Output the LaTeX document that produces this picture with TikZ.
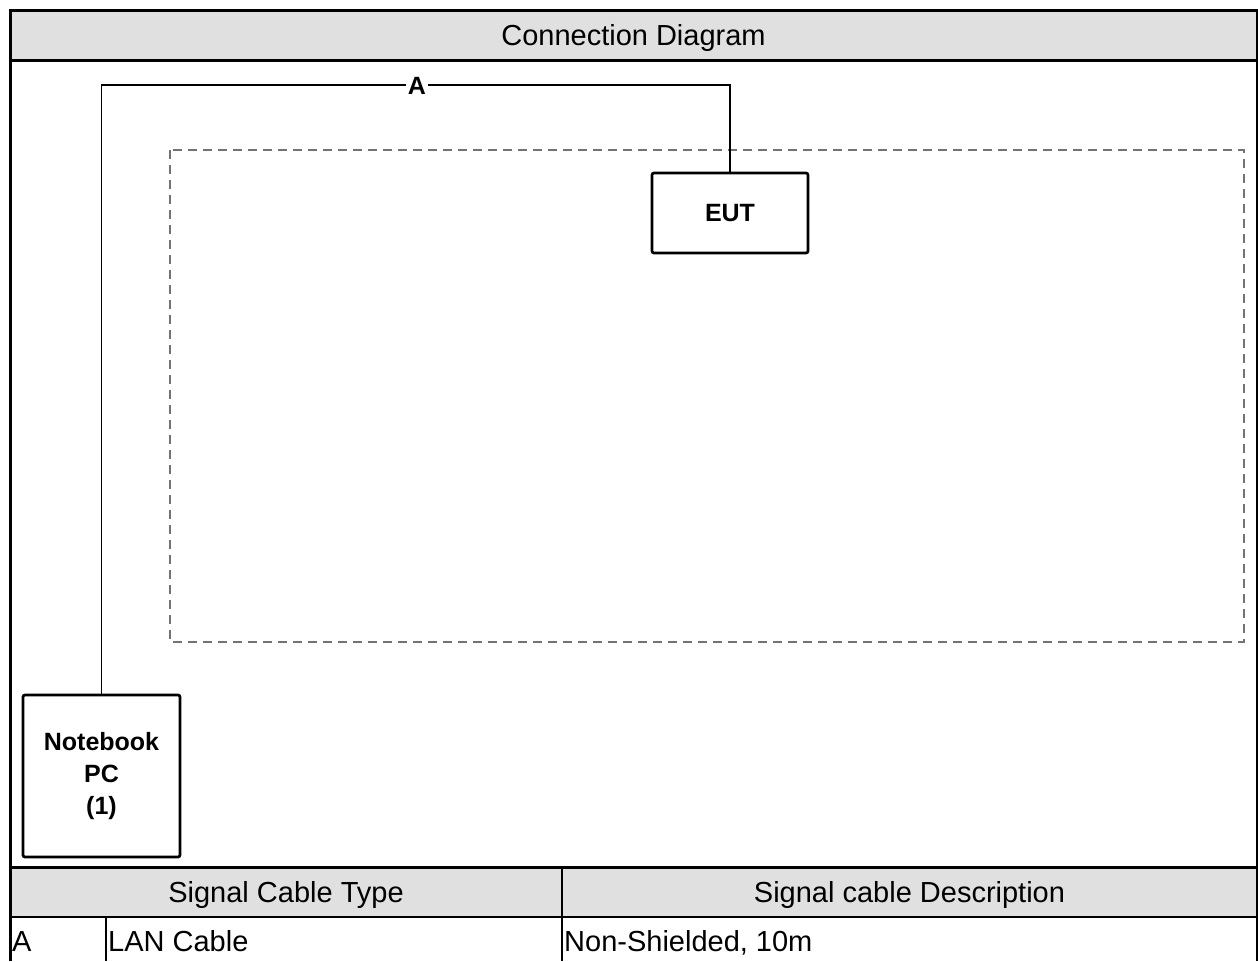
\documentclass[tikz,border=0pt]{standalone}
\usepackage{fontspec}
\setmainfont{Liberation Sans}
\begin{document}
\begin{tikzpicture}[x=1pt,y=-1pt,
  frame/.style={line width=3pt,black},
  rule/.style={line width=2pt,black},
  band/.style={fill=black!12},
  unit/.style={draw,line width=2.7pt,rounded corners=2pt,align=center,
    font=\fontsize{25}{32}\selectfont\bfseries,inner sep=0pt},
  cable/.style={line width=1.5pt,black},
  zone/.style={draw=black!55,line width=1.3pt,dash pattern=on 9pt off 6pt},
  head/.style={font=\fontsize{29}{35}\selectfont,inner sep=0pt},
  cell/.style={font=\fontsize{29}{35}\selectfont,inner sep=0pt,anchor=base west}]
\useasboundingbox (0,0) rectangle (1258,961);

% title band
\fill[band] (10,10) rectangle (1257,60);
\node[head] (title) at (633.5,38) {Connection Diagram};

% table header band
\fill[band] (10,867) rectangle (1257,917);

% test area
\draw[zone] (170,150) rectangle (1244,642);

% units
\node[unit,minimum width=156pt,minimum height=80pt] (eut) at (730,213) {EUT};
\node[unit,minimum width=157pt,minimum height=162pt] (nb) at (101.5,776) {Notebook\\PC\\(1)};

% cable A
\coordinate (route) at (0,85);
\draw[cable] (nb.north) -- (nb.north |- route) -- (eut.north |- route) -- (eut.north);
\node[fill=white,inner sep=1.5pt,font=\fontsize{25}{30}\selectfont\bfseries] (lblA) at (417,86) {A};

% frame and table rules
\draw[frame] (10,961) -- (10,10) -- (1257,10) -- (1257,961);
\draw[frame] (10,60) -- (1257,60);
\draw[frame] (10,867) -- (1257,867);
\draw[rule] (10,917) -- (1257,917);
\draw[rule] (562,867) -- (562,961);
\draw[rule] (106,917) -- (106,961);

% table text
\node[head] (hType) at (286,895) {Signal Cable Type};
\node[head] (hDesc) at (909.5,895) {Signal cable Description};
\node[cell] (cA) at (12,951) {A};
\node[cell] (cType) at (108,951) {LAN Cable};
\node[cell] (cDesc) at (564,951) {Non-Shielded, 10m};
\end{tikzpicture}
\end{document}
